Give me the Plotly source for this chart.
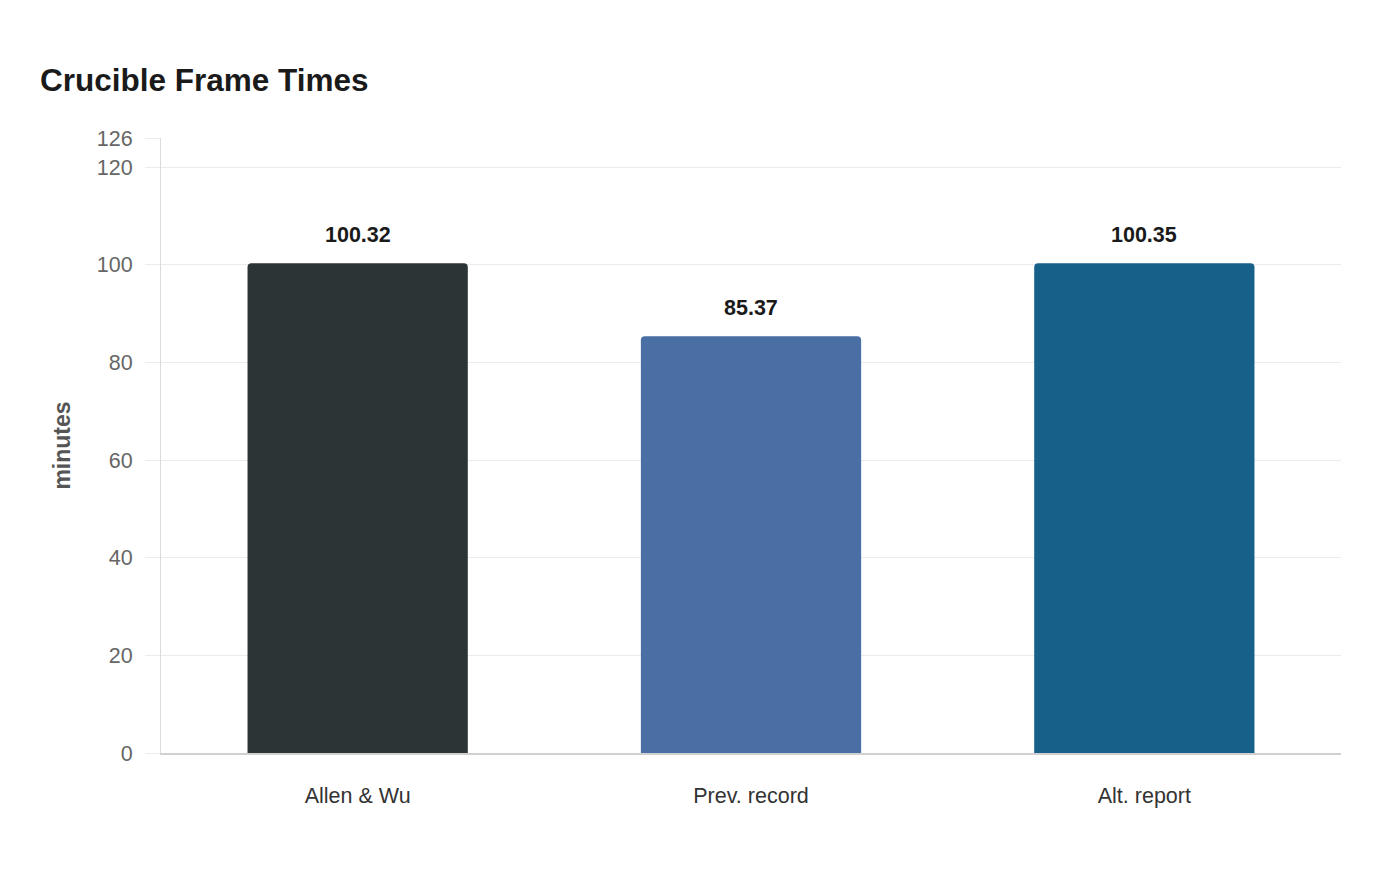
import plotly.graph_objects as go

categories = ["Allen & Wu", "Prev. record", "Alt. report"]
values = [100.32, 85.37, 100.35]
bar_colors = ["#2d3436", "#4a6fa5", "#17608a"]
y_ticks = [0, 20, 40, 60, 80, 100, 120, 126]

FONT = "Liberation Sans, Arial, sans-serif"

fig = go.Figure()
fig.add_trace(go.Bar(
    x=categories,
    y=values,
    marker=dict(color=bar_colors, line=dict(width=0)),
    width=0.56,
    hoverinfo="skip",
))

for c, v in zip(categories, values):
    fig.add_annotation(
        x=c, y=v, text=f"<b>{v:.2f}</b>", showarrow=False,
        yanchor="bottom", yshift=14,
        font=dict(family=FONT, size=21.5, color="#1a1a1a"),
    )

fig.update_layout(
    width=1400, height=880,
    margin=dict(l=153, r=67, t=130, b=135),
    paper_bgcolor="white", plot_bgcolor="white",
    barcornerradius=4,
    showlegend=False,
    title=dict(
        text="<b>Crucible Frame Times</b>",
        x=32 / 1400, xanchor="left", xref="container",
        y=1 - 72 / 880, yanchor="middle", yref="container",
        font=dict(family=FONT, size=31.5, color="#1a1a1a"),
    ),
    font=dict(family=FONT),
)

fig.update_yaxes(
    range=[0, 126],
    tickvals=y_ticks,
    ticktext=[str(t) for t in y_ticks],
    showgrid=True, gridcolor="#ebebeb", gridwidth=1,
    ticks="outside", ticklen=15, tickcolor="#ebebeb",
    ticklabelstandoff=8,
    showline=True, linecolor="#dcdcdc", linewidth=1,
    zeroline=False,
    tickfont=dict(family=FONT, size=21.5, color="#666666"),
    title=dict(text="<b>minutes</b>", standoff=19,
               font=dict(family=FONT, size=23, color="#555555")),
)
fig.update_xaxes(
    showgrid=False,
    showline=True, linecolor="#d0d0d0", linewidth=2,
    ticks="outside", ticklen=22, tickcolor="rgba(0,0,0,0)",
    tickfont=dict(family=FONT, size=21.5, color="#333333"),
)

fig.write_html("out.html")
